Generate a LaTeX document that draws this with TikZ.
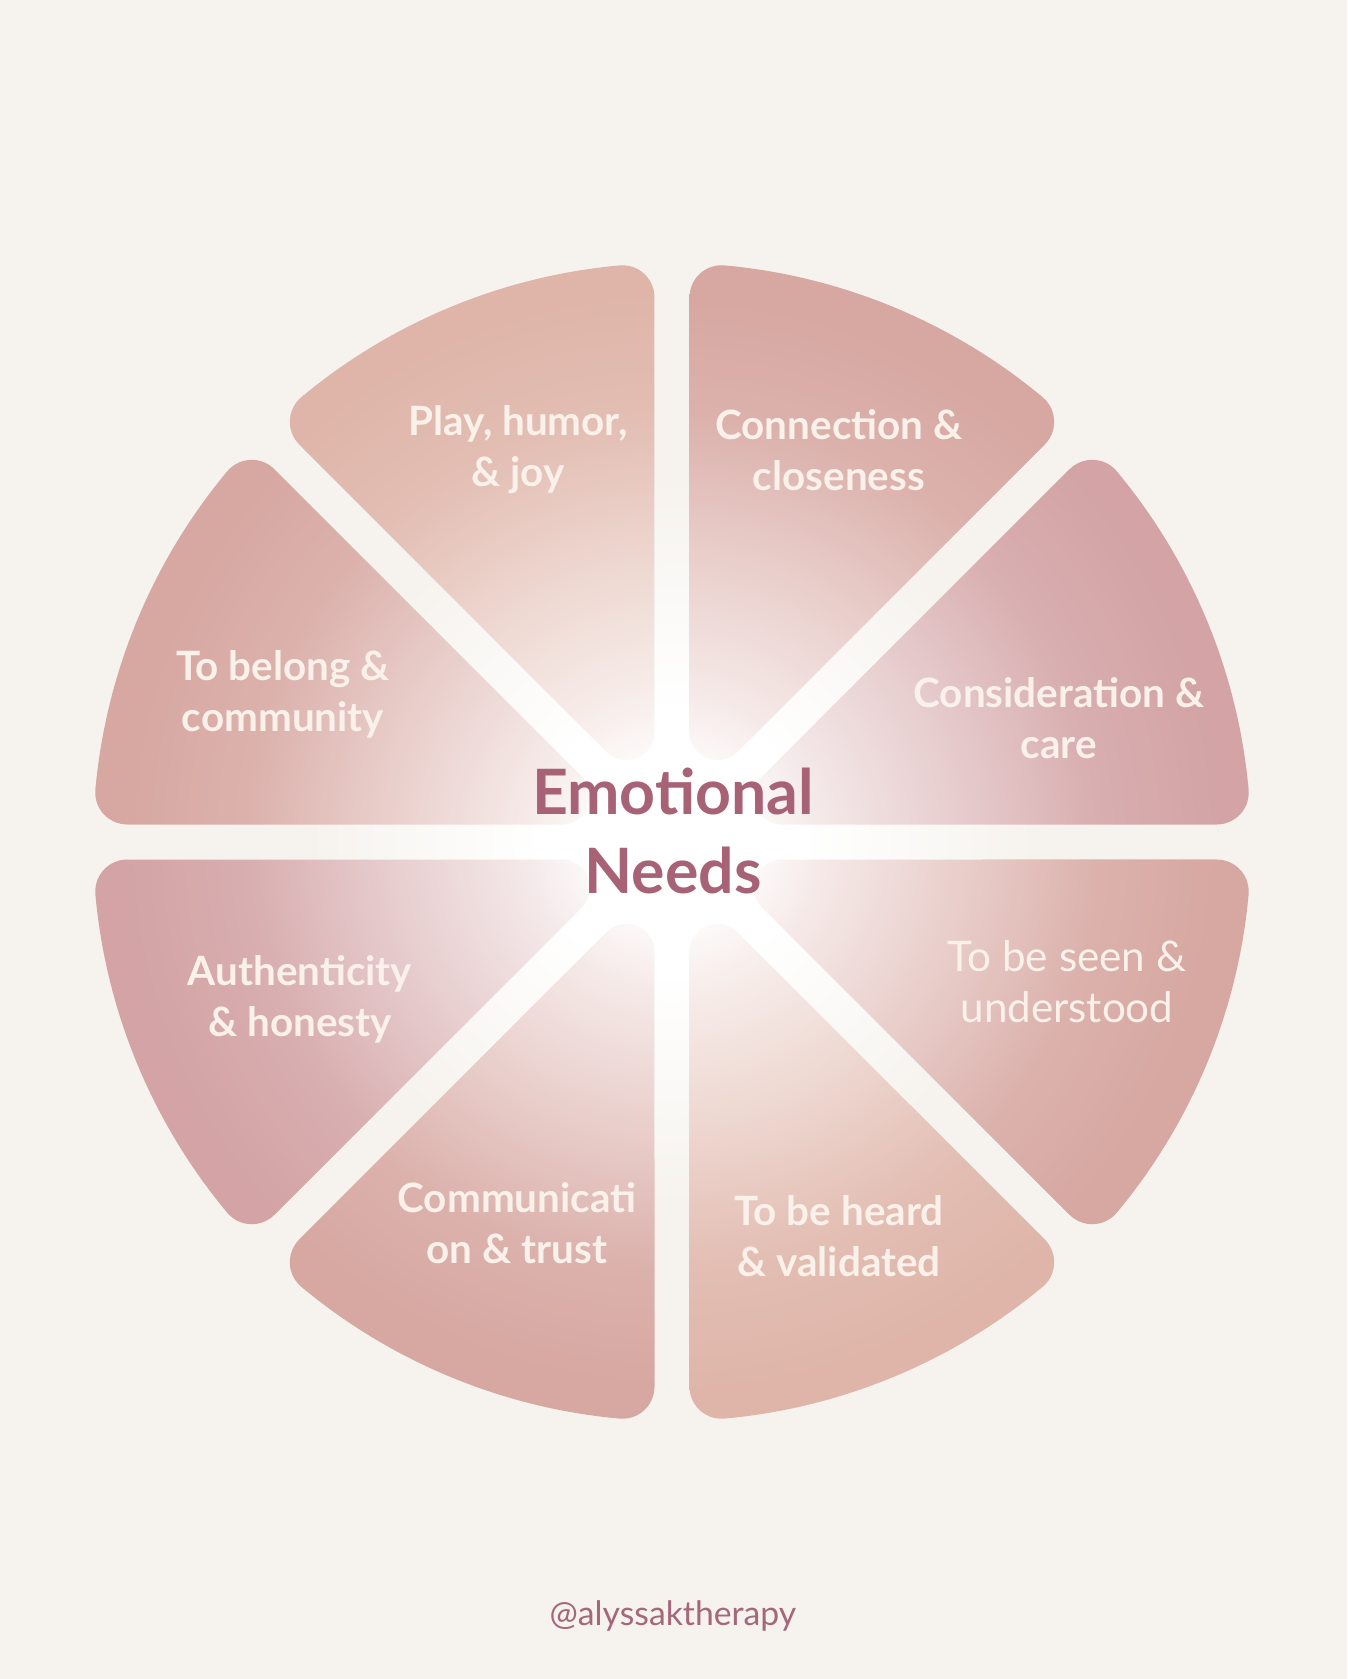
\documentclass[tikz,border=0pt]{standalone}
\usepackage{fontspec}
\setmainfont{Lato}
\definecolor{bgcream}{RGB}{246,243,238}
\definecolor{peachA}{RGB}{223,181,169}
\definecolor{roseA}{RGB}{215,167,161}
\definecolor{mauveA}{RGB}{211,163,165}
\definecolor{labelcream}{RGB}{250,241,235}
\definecolor{titlerose}{RGB}{168,98,118}
\definecolor{handlerose}{RGB}{164,104,124}
\colorlet{sectorcol}{roseA}
% white glow in the middle, fading out to the colour of each slice
\pgfdeclareradialshading[sectorcol]{glowsect}{\pgfpointorigin}{color(0bp)=(white); color(1.8bp)=(white); color(4.2bp)=(sectorcol!25!white); color(8.2bp)=(sectorcol!57!white); color(11.8bp)=(sectorcol!88!white); color(15.3bp)=(sectorcol); color(50bp)=(sectorcol)}
\pgfdeclareradialshading{bgglow}{\pgfpointorigin}{color(0bp)=(white); color(5bp)=(white); color(14bp)=(bgcream); color(50bp)=(bgcream)}
% one slice of the wheel, drawn at angle 0 to 45
\newcommand{\wheelsector}{(\wtx,\wheelgap) -- (\wfcx,\wheelgap)
  arc[start angle=-90,end angle=\wfphi,radius=\wheelro]
  arc[start angle=\wfphi,end angle=\wfphib,radius=\wheelR]
  arc[start angle=\wfphib,end angle=135,radius=\wheelro]
  -- ({45-\wtang}:\wtrad)
  arc[start angle=135,end angle=270,radius=\wheelri] -- cycle}

\begin{document}
\begin{tikzpicture}[x=1cm,y=1cm,
  need/.style={font=\bfseries\fontsize{11.5}{14.5}\selectfont,text=labelcream,align=center}]
\fill[bgcream] (-6.72,-8.37) rectangle (6.75,8.42);
\useasboundingbox (-6.72,-8.37) rectangle (6.75,8.42);
\shade[shading=bgglow] (0,0) circle (6.5);
% wheel radius, half gap, outer and inner fillets
\def\wheelR{5.79}\def\wheelgap{0.175}\def\wheelro{0.32}\def\wheelri{0.28}
\pgfmathsetmacro{\wfcx}{sqrt((\wheelR-\wheelro)^2-(\wheelgap+\wheelro)^2)}
\pgfmathsetmacro{\wfphi}{atan2(\wheelgap+\wheelro,\wfcx)}
\pgfmathsetmacro{\wfphib}{45-\wfphi}
\pgfmathsetmacro{\wtx}{(\wheelgap+\wheelri)/tan(22.5)}
\pgfmathsetmacro{\wtang}{atan2(\wheelgap,\wtx)}
\pgfmathsetmacro{\wtrad}{sqrt(\wtx^2+\wheelgap^2)}
\foreach \a/\col in {0/mauveA,45/roseA,90/peachA,135/roseA,180/mauveA,225/roseA,270/peachA,315/roseA}{
  \colorlet{sectorcol}{\col}
  \begin{scope}
    \clip[rotate=\a] \wheelsector;
    \shade[shading=glowsect] (0,0) circle (9);
  \end{scope}
}
\node[need] (play) at (-1.54,3.92) {Play, humor,\\\& joy};
\node[need] (connect) at (1.67,3.92) {Connection \&\\closeness};
\node[need] (consider) at (3.87,1.24) {Consideration \&\\care};
\node[need] (belong) at (-3.89,1.48) {To belong \&\\community};
\node[need] (honest) at (-3.72,-1.57) {Authenticity\\\& honesty};
\node[need] (trust) at (-1.55,-3.81) {Communicati\\on \& trust};
\node[need] (heard) at (1.67,-3.94) {To be heard\\\& validated};
\node[need,font=\fontsize{12}{14.5}\selectfont] (seen) at (3.95,-1.40) {To be seen \&\\understood};
\node[font=\bfseries\fontsize{17.8}{22.5}\selectfont,text=titlerose,align=center] (title) at (0.01,0.11) {Emotional\\Needs};
\node[font=\fontsize{9.6}{12}\selectfont,text=handlerose] (handle) at (0.01,-7.74) {@alyssaktherapy};
\end{tikzpicture}
\end{document}
